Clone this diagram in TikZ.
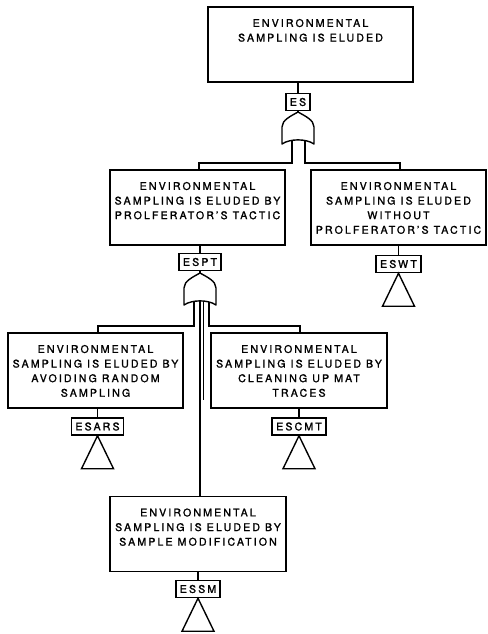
\documentclass[tikz,border=0pt]{standalone}
\usepackage{fontspec}
\setmainfont{TeX Gyre Heros}[LetterSpace=20,FakeBold=1.4]
\newcommand{\evtxt}[2]{\parbox[c][75pt][t]{#1}{\fontsize{10.6}{14.6}\selectfont\centering\vspace*{12pt}#2\par}}
\tikzset{
  orgate/.pic={
    \draw[gateline,fill=white] (0,0) .. controls (7,4) and (16,8) .. (16,15) -- (16,32)
      .. controls (8,26.5) and (-8,26.5) .. (-16,32) -- (-16,15)
      .. controls (-16,8) and (-7,4) .. cycle;
    \coordinate (-apex) at (0,0);
  }
}
\begin{document}
\begin{tikzpicture}[x=1pt,y=-1pt,
  event/.style={draw,line width=1.4pt,inner sep=0pt},
  tag/.style={draw,line width=1.5pt,inner xsep=4pt,inner ysep=0pt,minimum height=17pt,
    font=\fontsize{10.6}{12}\selectfont},
  wire/.style={line width=1.3pt},
  gateline/.style={line width=1.4pt,line join=round},
  house/.style={line width=1.4pt,line join=miter}]
\useasboundingbox (0,0) rectangle (487,634);

% event boxes
\node[event] (top)   at (310.5,44.5) {\evtxt{205pt}{ENVIRONMENTAL\\SAMPLING IS ELUDED}};
\node[event] (espt)  at (197.5,207.5) {\evtxt{175pt}{ENVIRONMENTAL\\SAMPLING IS ELUDED BY\\PROLFERATOR'S TACTIC}};
\node[event] (eswt)  at (398.5,207.5) {\evtxt{175pt}{ENVIRONMENTAL\\SAMPLING IS ELUDED\\WITHOUT\\PROLFERATOR'S TACTIC}};
\node[event] (esars) at (95.5,370.5) {\evtxt{175pt}{ENVIRONMENTAL\\SAMPLING IS ELUDED BY\\AVOIDING RANDOM\\SAMPLING}};
\node[event] (escmt) at (299,370.5) {\evtxt{176pt}{ENVIRONMENTAL\\SAMPLING IS ELUDED BY\\CLEANING UP MAT\\TRACES}};
\node[event] (essm)  at (198,534) {\evtxt{176pt}{ENVIRONMENTAL\\SAMPLING IS ELUDED BY\\SAMPLE MODIFICATION}};

% identifier tags
\node[tag] (tES)    at (298,102)   {ES};
\node[tag] (tESPT)  at (200,262)   {ESPT};
\node[tag] (tESWT)  at (398.5,264) {ESWT};
\node[tag] (tESARS) at (97.5,426.5) {ESARS};
\node[tag] (tESCMT) at (299,426.5) {ESCMT};
\node[tag] (tESSM)  at (198,589)   {ESSM};

% junction points of the gate inputs
\coordinate (j1) at (199,163);
\coordinate (j2) at (400,163);
\coordinate (j3) at (98,326);
\coordinate (j4) at (300,326);

% box-to-tag links
\draw[wire] (tES.north) -- (tES.north |- top.south);
\draw[wire] (tESPT.north) -- (tESPT.north |- espt.south);
\draw[wire] (tESWT.north) -- (tESWT.north |- eswt.south);
\draw[wire] (tESARS.north) -- (tESARS.north |- esars.south);
\draw[wire] (tESCMT.north) -- (tESCMT.north |- escmt.south);
\draw[wire] (tESSM.north) -- (tESSM.north |- essm.south);

% gate inputs
\draw[wire] (292,130) |- (j1) -- (j1 |- espt.north);
\draw[wire] (305,130) |- (j2) -- (j2 |- eswt.north);
\draw[wire] (194,292) |- (j3) -- (j3 |- esars.north);
\draw[wire] (209,292) |- (j4) -- (j4 |- escmt.north);
\draw[wire] (200,292) -- (200,0 |- essm.north);
\draw[wire] (203.5,292) -- (203.5,400);

% OR gates
\pic (g1) at (298,112) {orgate};
\pic (g2) at (200,273) {orgate};
\draw[wire] (tES.south) -- (g1-apex);
\draw[wire] (tESPT.south) -- (g2-apex);

% undeveloped-event triangles
\foreach \t in {tESWT,tESARS,tESCMT,tESSM}
  \draw[house] (\t.south) -- ++(16,33) -- ++(-32,0) -- cycle;
\end{tikzpicture}
\end{document}
